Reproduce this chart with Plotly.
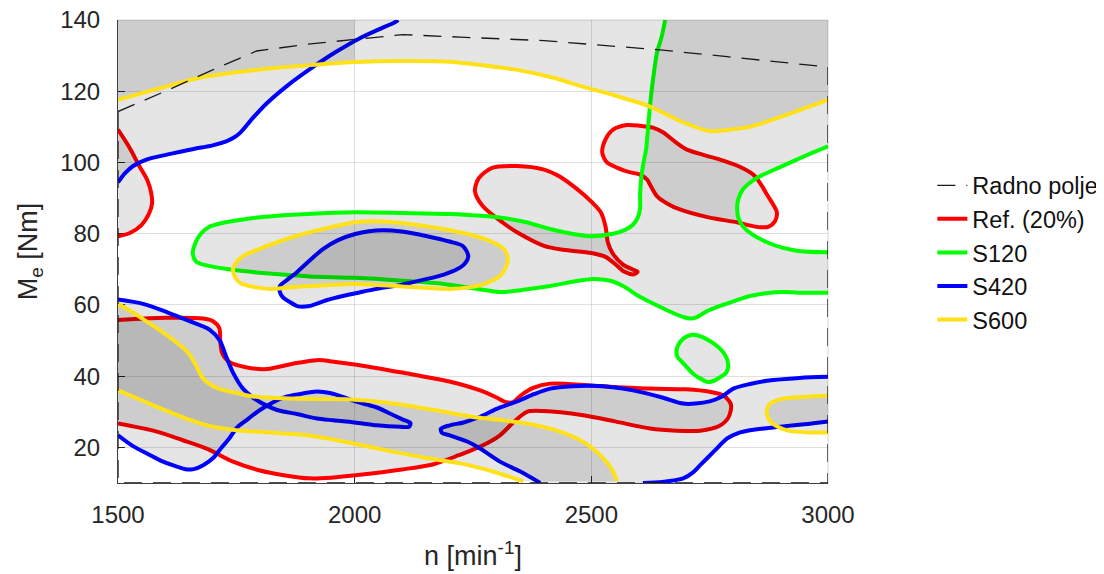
import plotly.graph_objects as go
import numpy as np

# ---------------- data (n [min^-1], Me [Nm]) ----------------
radno_n = [1500, 1600, 1700, 1793, 1900, 2000, 2102, 2223, 2400, 2504, 2645, 2787, 2900, 3000, 3000, 1500, 1500]
radno_me = [114.3, 120, 126, 131.3, 133.2, 134.6, 135.9, 135.2, 134.2, 133.1, 131.6, 129.7, 128.2, 126.8, 10, 10, 114.3]

# Ref. (20%)
red_arc_n = [1500, 1525, 1545, 1562, 1570, 1572, 1565, 1550, 1525, 1500]
red_arc_me = [109.2, 104, 99, 95, 91.5, 88.5, 85.5, 82.5, 80.2, 79.3]
red_blob_n = [2254, 2262, 2290, 2343, 2400, 2434, 2470, 2500, 2520, 2530, 2535, 2545, 2567, 2590, 2598, 2590,
              2570, 2550, 2530, 2500, 2440, 2400, 2343, 2314, 2271, 2254]
red_blob_me = [92, 95.5, 98.5, 99, 98, 96, 92.5, 89, 86, 82, 77.5, 74.5, 71.3, 69.8, 69.3, 68.6,
               69.3, 71.5, 73.5, 74.6, 75.5, 76.6, 80.4, 83, 87.7, 92]
red_right_n = [2523, 2530, 2546, 2575, 2603, 2630, 2652, 2680, 2702, 2740, 2772, 2810, 2842, 2860, 2871, 2885,
               2892, 2888, 2875, 2857, 2835, 2808, 2750, 2687, 2660, 2639, 2625, 2618, 2600, 2582, 2555, 2533, 2523]
red_right_me = [102.8, 106.5, 109.2, 110.5, 110.3, 109.8, 108.4, 105.5, 103.6, 102, 100.8, 99, 96.6, 93.5, 91, 88,
                86, 83.5, 82, 81.8, 82.3, 83.2, 84.5, 86.8, 88.5, 90.5, 93.5, 95.2, 96.7, 97.2, 98.5, 100, 102.8]
red_band_n = [1500, 1603, 1680, 1700, 1714, 1716, 1720, 1735, 1770, 1815, 1870, 1920, 1960, 2000, 2100, 2200,
              2265, 2300, 2320, 2335, 2350, 2377, 2413, 2504, 2624, 2700, 2750, 2780, 2795, 2790, 2770, 2730,
              2680, 2624, 2550, 2483, 2400, 2364, 2335, 2307, 2265, 2220, 2165, 2100, 2011, 1950, 1905, 1850,
              1800, 1743, 1690, 1637, 1580, 1500]
red_band_me = [55.8, 56.4, 56.2, 55.5, 53.5, 50, 46.5, 44, 42.5, 42, 43.5, 44.5, 44, 43.3, 41, 38.5,
               36, 34, 32.7, 32.7, 34.5, 36.7, 37.9, 37.3, 36.5, 36.3, 35.6, 34.5, 32, 28.5, 26, 24.7,
               24.7, 25.3, 27.3, 29, 30.2, 30, 27, 23.4, 20.2, 17.8, 15.2, 13.8, 12.3, 11.5, 11.3, 12.2,
               13.5, 16, 19.5, 22, 24.5, 26.7]

# S120
green_main_n = [2656, 2648, 2639, 2630, 2624, 2620, 2616, 2609, 2605, 2603, 2603, 2598, 2588, 2570, 2546, 2497,
                2450, 2413, 2360, 2301, 2201, 2100, 2001, 1900, 1800, 1764, 1720, 1694, 1675, 1664, 1658, 1664,
                1680, 1720, 1764, 1840, 1905, 2001, 2100, 2187, 2260, 2307, 2360, 2413, 2460, 2504, 2540, 2567,
                2600, 2624, 2660, 2694, 2710, 2723, 2745, 2765, 2800, 2835, 2870, 2905, 2950, 3000]
green_main_me = [140, 135, 131, 123, 116, 110, 104, 99, 95, 91, 87, 84.5, 82.5, 81, 80, 79.3,
                 80.2, 81.3, 83.3, 84.6, 85.5, 85.8, 86, 85.5, 84.6, 84, 83, 82, 80, 77.5, 74.5, 72.3,
                 71.3, 70.3, 69.5, 68.6, 68, 67.6, 66.8, 65.9, 64.5, 63.6, 64.3, 65.3, 66.5, 67.3, 66.8, 65.3,
                 62.5, 60.8, 58.5, 56.6, 56.2, 56.6, 58.3, 59.4, 61, 62.5, 63.3, 63.6, 63.4, 63.4]
green_c_n = [3000, 2965, 2934, 2895, 2856, 2835, 2820, 2810, 2808, 2811, 2820, 2840, 2871, 2905, 2941, 3000]
green_c_me = [104.5, 102.6, 100.8, 98.5, 96.1, 94.3, 92.4, 89.5, 86.9, 84.3, 82.1, 79.8, 77.6, 76, 75.1, 74.8]
green_circ_n = [2723, 2755, 2778, 2789, 2785, 2772, 2755, 2744, 2728, 2715, 2695, 2681, 2682, 2695, 2712, 2723]
green_circ_me = [51.5, 49.5, 46.8, 43.5, 41, 39.7, 38.5, 38.4, 39.5, 40.7, 43.5, 45.7, 48.3, 50.6, 51.6, 51.5]

# S420
blue_top_n = [1500, 1515, 1532, 1560, 1603, 1660, 1700, 1730, 1745, 1758, 1785, 1815, 1860, 1913, 1960, 2011,
              2050, 2085, 2092]
blue_top_me = [94.4, 97, 99, 100.8, 102.2, 103.8, 104.8, 106, 107, 108.3, 112.5, 116.7, 121.8, 126.9, 131, 134.9,
               137.3, 139.4, 140]
blue_loop_n = [1842, 1860, 1878, 1905, 1933, 1965, 2001, 2030, 2060, 2100, 2153, 2200, 2229, 2240, 2232, 2216,
               2190, 2153, 2100, 2047, 2010, 1975, 1940, 1905, 1880, 1863, 1848, 1842, 1842]
blue_loop_me = [65.3, 67.3, 69.2, 72.5, 75.7, 78.2, 79.9, 80.7, 81, 80.6, 79.3, 77.8, 76.5, 73.7, 71.5, 70,
                68.6, 67.3, 65.7, 64.5, 63.5, 62.5, 61.3, 59.7, 59.6, 60.8, 62.2, 63.6, 65.3]
blue_low_n = [1500, 1553, 1603, 1650, 1694, 1715, 1730, 1743, 1764, 1785, 1810, 1836, 1880, 1920, 1955, 2000,
              2047, 2096, 2115, 2118, 2102, 2070, 2047, 2026, 2000, 1975, 1950, 1920, 1885, 1857, 1830, 1800,
              1770, 1751, 1735, 1716, 1701, 1680, 1660, 1646, 1620, 1590, 1568, 1530, 1500]
blue_low_me = [61.5, 60.3, 58, 55.5, 53, 50, 45, 41, 36.5, 34, 32, 30.5, 29.3, 28.1, 27.6, 27,
               26.2, 25.8, 25.8, 26.8, 27.8, 29.8, 31.2, 32, 33, 34.2, 35.2, 35.7, 35, 34.3, 32.8, 30.5,
               27.5, 25.5, 22.5, 19.5, 17, 15, 13.9, 13.8, 14.8, 16.3, 17.8, 20.5, 23.4]
blue_mid_n = [3000, 2940, 2871, 2835, 2800, 2775, 2750, 2720, 2694, 2650, 2588, 2550, 2504, 2460, 2413, 2380,
              2343, 2300, 2265, 2230, 2201, 2182, 2185, 2201, 2240, 2265, 2307, 2350, 2392]
blue_mid_me = [39.8, 39.5, 38.7, 37.8, 36.5, 34.2, 32.9, 32.3, 32.3, 34, 36, 36.8, 37.3, 37.2, 36.5, 35,
               32.9, 30.8, 28.6, 27, 26.2, 25.2, 24, 23.4, 21.5, 19.7, 16, 13.2, 10]
blue_bot_n = [2609, 2650, 2694, 2715, 2730, 2760, 2787, 2810, 2835, 2870, 2905, 2950, 3000]
blue_bot_me = [10, 10.3, 11.3, 13, 15, 19, 22.5, 24, 24.8, 25.4, 25.9, 26.5, 27.3]

# S600
yellow_top_n = [1500, 1560, 1620, 1673, 1750, 1830, 1913, 2000, 2096, 2201, 2265, 2343, 2420, 2482, 2550, 2624,
                2690, 2750, 2790, 2835, 2900, 2950, 3000]
yellow_top_me = [117.6, 119.8, 122, 123.8, 125.3, 126.5, 127.4, 128.2, 128.5, 128.3, 127.4, 126, 123.8, 121.3, 118.8, 115.7,
                 111.5, 108.8, 109.2, 110, 112.8, 115.2, 117.6]
yellow_loop_n = [1743, 1750, 1764, 1800, 1836, 1880, 1933, 2001, 2040, 2081, 2140, 2187, 2250, 2292, 2315, 2324,
                 2318, 2307, 2280, 2244, 2201, 2100, 2001, 1905, 1860, 1821, 1785, 1760, 1748, 1743]
yellow_loop_me = [70, 72, 73.7, 75.8, 77.6, 79.5, 81.3, 83.2, 83.5, 83.2, 82.3, 81.3, 79.5, 77.6, 75.7, 72.9,
                  70.2, 68.1, 66.2, 65, 64.5, 65.2, 65.9, 65.3, 64.9, 64.5, 65.1, 66, 67.6, 70]
yellow_up_n = [1500, 1530, 1553, 1600, 1646, 1665, 1680, 1710, 1750, 1785, 1850, 1920, 2001, 2100, 2180, 2244,
               2300, 2364, 2420, 2470, 2500, 2525, 2545, 2554]
yellow_up_me = [60.3, 58, 56, 51.8, 46.9, 43, 39.3, 36.6, 35.3, 34.3, 33.8, 33.6, 33.4, 32, 30.2, 28.7,
                27.8, 26.7, 25, 22.5, 20, 17, 13.5, 10.5]
yellow_lo_n = [1500, 1540, 1589, 1640, 1694, 1750, 1820, 1899, 1970, 2047, 2140, 2223, 2290, 2356]
yellow_lo_me = [36, 33.8, 31, 28.3, 26, 24.8, 24.2, 23.4, 21.8, 19.7, 17.3, 15.5, 13.3, 10.5]
yellow_right_n = [3000, 2950, 2905, 2880, 2871, 2872, 2878, 2900, 2926, 2960, 3000]
yellow_right_me = [34.6, 34.2, 33.7, 32.5, 30.9, 28.8, 27.3, 25.4, 24.5, 24.2, 24.2]

N_MIN, N_MAX, ME_MIN, ME_MAX = 1500, 3000, 10, 140
x_ticks = [1500, 2000, 2500, 3000]
y_ticks = [20, 40, 60, 80, 100, 120, 140]

# ---------------- helpers ----------------
def join(*pieces):
    xs, ys = [], []
    for px, py in pieces:
        if xs:
            xs.append(None); ys.append(None)
        xs += list(px); ys += list(py)
    return xs, ys

def add_fill(rx, ry):
    fig.add_trace(go.Scatter(x=rx, y=ry, mode="lines", fill="toself",
                             fillcolor="rgba(0,0,0,0.1)", line=dict(width=0),
                             hoverinfo="skip", showlegend=False))

fig = go.Figure()
col = {"Ref. (20%)": "#ff0000", "S120": "#00ff00", "S420": "#0000ff", "S600": "#ffe11a"}

yel_at = lambda n: float(np.interp(n, yellow_top_n, yellow_top_me))
bt = [(n, m) for n, m in zip(blue_top_n, blue_top_me) if m < yel_at(n)]
blue_top_fill = ([p[0] for p in bt] + [2000, 2000, N_MIN],
                 [p[1] for p in bt] + [yel_at(2000), ME_MAX, ME_MAX])

series = [
    ("Ref. (20%)",
     [(red_arc_n, red_arc_me), (red_blob_n, red_blob_me), (red_right_n, red_right_me), (red_band_n, red_band_me)],
     [(red_arc_n, red_arc_me), (red_blob_n, red_blob_me), (red_right_n, red_right_me), (red_band_n, red_band_me)]),
    ("S120",
     [(green_main_n, green_main_me), (green_c_n, green_c_me), (green_circ_n, green_circ_me)],
     [(green_main_n + green_c_n[::-1] + [N_MAX], green_main_me + green_c_me[::-1] + [ME_MAX]),
      (green_circ_n, green_circ_me)]),
    ("S420",
     [(blue_top_n, blue_top_me), (blue_loop_n, blue_loop_me), (blue_low_n, blue_low_me),
      (blue_mid_n, blue_mid_me), (blue_bot_n, blue_bot_me)],
     [blue_top_fill, (blue_loop_n, blue_loop_me), (blue_low_n, blue_low_me),
      (blue_mid_n + blue_bot_n, blue_mid_me + blue_bot_me)]),
    ("S600",
     [(yellow_top_n, yellow_top_me), (yellow_loop_n, yellow_loop_me), (yellow_up_n, yellow_up_me),
      (yellow_lo_n, yellow_lo_me), (yellow_right_n, yellow_right_me)],
     [(yellow_top_n + [N_MAX, N_MIN], yellow_top_me + [ME_MAX, ME_MAX]), (yellow_loop_n, yellow_loop_me),
      (yellow_up_n + yellow_lo_n[::-1], yellow_up_me + yellow_lo_me[::-1]), (yellow_right_n, yellow_right_me)]),
]

# each strategy: its shaded regions, then its contour line
for i, (name, pieces, fills) in enumerate(series):
    for rx, ry in fills:
        add_fill(rx, ry)
    xs, ys = join(*pieces)
    fig.add_trace(go.Scatter(x=xs, y=ys, mode="lines", name=name, legendgroup=f"g{i+1}",
                             legendrank=i + 2,
                             line=dict(color=col[name], width=4, shape="spline", smoothing=0.8)))

fig.add_trace(go.Scatter(x=radno_n, y=radno_me, mode="lines", name="Radno polje",
                         legendgroup="g0", legendrank=1,
                         line=dict(color="#1a1a1a", width=1.3, dash="18px,11px")))

axis_font = dict(family="Liberation Sans, Arial, sans-serif", size=24, color="#262626")
common = dict(showgrid=True, gridcolor="rgba(38,38,38,0.15)", gridwidth=1, zeroline=False,
              ticks="inside", ticklen=7, tickcolor="#262626", showline=True, linecolor="#404040",
              linewidth=1, layer="below traces", tickfont=axis_font, automargin=False,
              ticklabeloverflow="allow")

# the page body adds an 8 px offset, so the figure is 8 px smaller and margins shifted
fig.update_layout(
    width=1096, height=566,
    margin=dict(l=110, r=276, t=12, b=91, autoexpand=False),
    plot_bgcolor="white", paper_bgcolor="white",
    font=dict(family="Liberation Sans, Arial, sans-serif", color="#262626"),
    xaxis=dict(range=[N_MIN, N_MAX], tickvals=x_ticks, ticklabelstandoff=10,
               title=dict(text="n [min<sup>-1</sup>]", font=dict(size=27, color="#262626"), standoff=19),
               **common),
    yaxis=dict(range=[ME_MIN, ME_MAX], tickvals=y_ticks, ticklabelstandoff=12,
               title=dict(text="M<sub>e</sub> [Nm]", font=dict(size=27, color="#262626"), standoff=14),
               **common),
    legend=dict(x=1.147, y=0.69, xanchor="left", yanchor="top", tracegroupgap=0,
                font=dict(size=23.5, color="#111111"), bgcolor="rgba(255,255,255,0)"),
    shapes=[
        dict(type="line", xref="paper", yref="paper", x0=0, x1=1, y0=1, y1=1,
             line=dict(color="rgba(38,38,38,0.2)", width=1)),
        dict(type="line", xref="paper", yref="paper", x0=1, x1=1, y0=0, y1=1,
             line=dict(color="rgba(38,38,38,0.2)", width=1)),
    ],
)

fig.write_html("out.html")
